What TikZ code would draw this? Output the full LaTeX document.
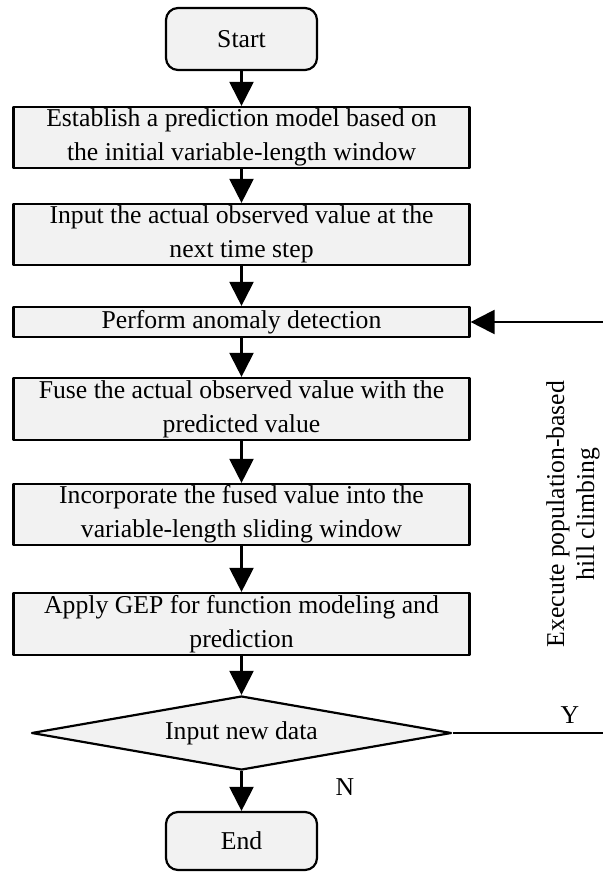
\documentclass[tikz,border=0pt]{standalone}
\usepackage{fontspec}
\setmainfont{Liberation Serif}
\usetikzlibrary{arrows.meta}
\usetikzlibrary{shapes.geometric}

\begin{document}
\begin{tikzpicture}[
		x=0.5pt, y=-0.5pt,
		line join=round,
		every node/.style={font=\fontsize{12.85}{17}\selectfont},
		procbox/.style={draw, line width=1.1pt, fill=black!5, minimum width=228pt, align=center, inner sep=0pt},
		termbox/.style={draw, line width=1.1pt, fill=black!5, rounded corners=6pt, minimum width=75.5pt, minimum height=31pt},
		decbox/.style={draw, diamond, line width=1.1pt, fill=black!5, minimum width=210pt, minimum height=37pt, inner sep=0pt, shape aspect=5.7},
		flow/.style={line width=1.1pt, -{Triangle[length=12pt,width=12pt]}}
	]
	\useasboundingbox (0,0) rectangle (603,872);

	% Main chain
	\def\cx{241.5}
	\node[termbox] (start) at (\cx,39) {Start};
	\node[procbox, minimum height=30.5pt] (model) at (\cx,137.5) {Establish a prediction model based on\\the initial variable-length window};
	\node[procbox, minimum height=30.5pt] (observe) at (\cx,234.5) {Input the actual observed value at the\\next time step};
	\node[procbox, minimum height=15pt] (anomaly) at (\cx,322) {Perform anomaly detection};
	\node[procbox, minimum height=31pt] (fuse) at (\cx,409) {Fuse the actual observed value with the\\predicted value};
	\node[procbox, minimum height=30.5pt] (window) at (\cx,514.5) {Incorporate the fused value into the\\variable-length sliding window};
	\node[procbox, minimum height=31pt] (gep) at (\cx,624) {Apply GEP for function modeling and\\prediction};
	\node[decbox] (newdata) at (\cx,733) {Input new data};
	\node[termbox, minimum height=29pt] (end) at (\cx,841) {End};

	\draw[flow] (start) -- (model);
	\draw[flow] (model) -- (observe);
	\draw[flow] (observe) -- (anomaly);
	\draw[flow] (anomaly) -- (fuse);
	\draw[flow] (fuse) -- (window);
	\draw[flow] (window) -- (gep);
	\draw[flow] (gep) -- (newdata);
	\draw[flow] (newdata) -- (end);

	% Feedback loop
	\coordinate (loopdown) at (608,733);
	\coordinate (loopup) at (608,322);
	\draw[flow] (newdata.east) -- (loopdown) -- (loopup) -- (anomaly.east);

	% Labels
	\node (yes) at (570,715) {Y};
	\node (no) at (345,787) {N};
	\node[rotate=90, align=center, font=\fontsize{12.85}{15}\selectfont] (climb) at (573,514) {Execute population-based\\hill climbing};
\end{tikzpicture}
\end{document}
